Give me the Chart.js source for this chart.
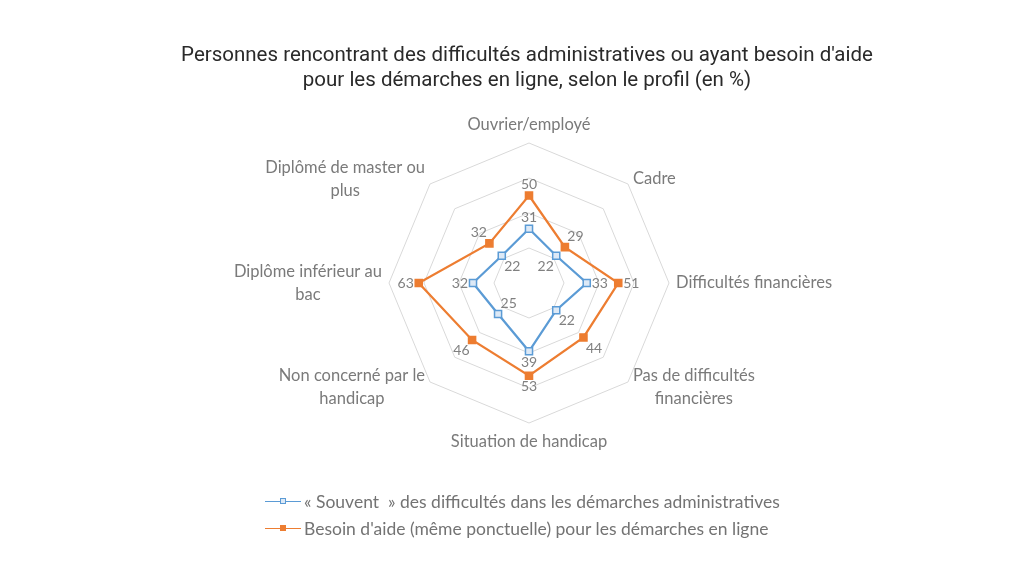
<!DOCTYPE html>
<html>
<head>
<meta charset="utf-8">
<script src="https://cdn.jsdelivr.net/npm/chart.js@4"></script>
<style>
  body { margin: 0; background: #fff; }
  #wrap { position: relative; width: 1024px; height: 575px; }
  #canvas { position: absolute; left: 0; top: 0; }
  #title { position: absolute; left: 27px; width: 1000px; top: 42px; text-align: center;
    font-family: Roboto, sans-serif; font-size: 20.5px; line-height: 25px; color: #2a2a2a; }
  #legend { position: absolute; left: 265px; top: 488px; font-family: Lato, sans-serif;
    font-size: 17.5px; color: #737373; }
  .item { height: 27px; display: flex; align-items: center; }
  .mark { position: relative; width: 36px; height: 1.5px; margin-right: 3px; }
  .mark span { position: absolute; left: 15px; top: -2.5px; width: 6px; height: 6px; box-sizing: border-box; }
</style>
</head>
<body>
<div id="wrap">
  <canvas id="canvas" width="1024" height="575"></canvas>
  <div id="title">Personnes rencontrant des difficultés administratives ou ayant besoin d'aide<br>pour les démarches en ligne, selon le profil (en %)</div>
  <div id="legend">
    <div class="item"><div class="mark" style="background:#5B9BD5"><span style="border:1.5px solid #5B9BD5;background:#dde9f6"></span></div>« Souvent&nbsp; » des difficultés dans les démarches administratives</div>
    <div class="item"><div class="mark" style="background:#ED7D31"><span style="background:#ED7D31"></span></div>Besoin d'aide (même ponctuelle) pour les démarches en ligne</div>
  </div>
</div>
<script>
const labels = [
  ['Ouvrier/employé'],
  ['Cadre'],
  ['Difficultés financières'],
  ['Pas de difficultés', 'financières'],
  ['Situation de handicap'],
  ['Non concerné par le', 'handicap'],
  ['Diplôme inférieur au', 'bac'],
  ['Diplômé de master ou', 'plus']
];
const souvent = [31, 22, 33, 22, 39, 25, 32, 22];
const besoin = [50, 29, 51, 44, 53, 46, 63, 32];
const ticks = [0, 20, 40, 60, 80];
// blue labels that Excel put inside the shape
const blueInward = [1, 5, 7];

const labelFont = '16.5px Lato, sans-serif';
const valueFont = '14px Lato, sans-serif';

const radarLabels = {
  id: 'radarLabels',
  afterDatasetsDraw(chart) {
    const ctx = chart.ctx;
    const scale = chart.scales.r;
    ctx.save();
    // category labels
    ctx.font = labelFont;
    ctx.fillStyle = '#7a7a7a';
    ctx.textAlign = 'center';
    ctx.textBaseline = 'middle';
    const lh = 22.5;
    labels.forEach((lines, i) => {
      const p = scale.getPointPosition(i, scale.drawingArea + 7);
      const dx = p.x - scale.xCenter, dy = p.y - scale.yCenter;
      const w = Math.max(...lines.map(l => ctx.measureText(l).width));
      const h = lines.length * lh;
      let cx = p.x, cy = p.y;
      if (dx > 1) cx = p.x + w / 2;
      else if (dx < -1) cx = p.x - w / 2;
      if (Math.abs(dx) <= 1) cy = dy < 0 ? p.y - h / 2 : p.y + h / 2;
      lines.forEach((l, k) => ctx.fillText(l, cx, cy - h / 2 + lh / 2 + k * lh));
    });
    // value labels
    ctx.font = valueFont;
    chart.data.datasets.forEach((ds, di) => {
      const meta = chart.getDatasetMeta(di);
      ctx.fillStyle = '#808080';
      meta.data.forEach((pt, i) => {
        const txt = String(ds.data[i]);
        const w = ctx.measureText(txt).width, h = 12;
        let ux = pt.x - scale.xCenter, uy = pt.y - scale.yCenter;
        const len = Math.hypot(ux, uy);
        ux /= len; uy /= len;
        if (di === 0 && blueInward.includes(i)) { ux = -ux; uy = -uy; }
        const d = 5 + Math.abs(ux) * w / 2 + Math.abs(uy) * h / 2;
        ctx.fillText(txt, pt.x + ux * d, pt.y + uy * d);
      });
    });
    ctx.restore();
  }
};

const data = {
  labels: labels,
  datasets: [
    {
      label: '« Souvent  » des difficultés dans les démarches administratives',
      data: souvent,
      borderColor: '#5B9BD5',
      backgroundColor: 'transparent',
      borderWidth: 2.25,
      pointStyle: 'rect',
      pointRadius: 5,
      pointBorderWidth: 1.5,
      pointBorderColor: '#5B9BD5',
      pointBackgroundColor: '#dde9f6',
      fill: false
    },
    {
      label: "Besoin d'aide (même ponctuelle) pour les démarches en ligne",
      data: besoin,
      borderColor: '#ED7D31',
      backgroundColor: 'transparent',
      borderWidth: 2.25,
      pointStyle: 'rect',
      pointRadius: 5,
      pointBorderWidth: 1.5,
      pointBorderColor: '#ED7D31',
      pointBackgroundColor: '#ED7D31',
      fill: false
    }
  ]
};

const config = {
  type: 'radar',
  data: data,
  options: {
    responsive: false,
    animation: false,
    layout: { padding: { left: 389, right: 355, top: 143, bottom: 152 } },
    plugins: { legend: { display: false }, title: { display: false }, tooltip: { enabled: false } },
    elements: { line: { tension: 0 } },
    scales: {
      r: {
        min: ticks[0],
        max: ticks[ticks.length - 1],
        ticks: { display: false, stepSize: ticks[1] - ticks[0] },
        angleLines: { display: false },
        grid: { color: '#d9d9d9', lineWidth: 1 },
        pointLabels: { display: false }
      }
    }
  },
  plugins: [radarLabels]
};

const canvas = document.getElementById('canvas');
const chart = new Chart(canvas, config);
</script>
</body>
</html>
